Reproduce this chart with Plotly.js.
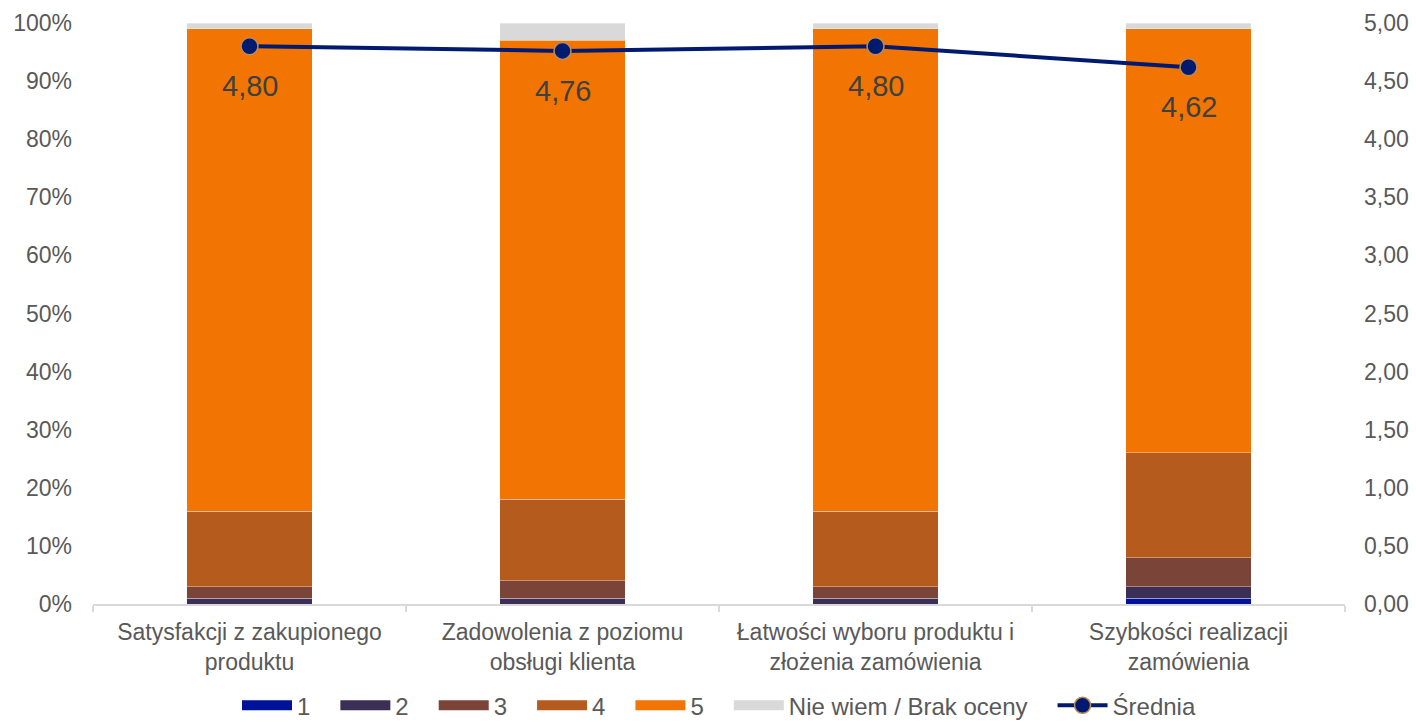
<!DOCTYPE html>
<html>
<head>
<meta charset="utf-8">
<script src="https://cdn.plot.ly/plotly-3.0.1.min.js"></script>
<style>
  html, body { margin: 0; padding: 0; background: #ffffff; }
  #chart { width: 1416px; height: 722px; }
</style>
</head>
<body>
<div id="chart"></div>
<script>
// Survey categories (x axis)
const categories = [
  'Satysfakcji z zakupionego<br>produktu',
  'Zadowolenia z poziomu<br>obsługi klienta',
  'Łatwości wyboru produktu i<br>złożenia zamówienia',
  'Szybkości realizacji<br>zamówienia'
];

// Share of answers per rating, in percent
const rating1 = [0, 0, 0, 1];
const rating2 = [1, 1, 1, 2];
const rating3 = [2, 3, 2, 5];
const rating4 = [13, 14, 13, 18];
const rating5 = [83, 79, 83, 73];
const noAnswer = [1, 3, 1, 1];

// Average rating (right axis)
const means = [4.80, 4.76, 4.80, 4.62];

const seriesNames = ['1', '2', '3', '4', '5', 'Nie wiem / Brak oceny'];
const meanName = 'Średnia';
const seriesColors = ['#00129A', '#3C2F55', '#7A4438', '#B55B1E', '#F27503', '#D9D9D9'];
const seriesValues = [rating1, rating2, rating3, rating4, rating5, noAnswer];

const textColor = '#595959';
const fontFamily = 'Liberation Sans, Arial, sans-serif';
const tickSize = 23;
// extra room after each legend label
const legendPad = '\u00a0\u00a0\u00a0';

// stacked bars (legend entries are drawn by wide swatch traces below)
const traces = seriesValues.map((vals, i) => ({
  type: 'bar',
  name: seriesNames[i],
  x: categories,
  y: vals,
  showlegend: false,
  marker: {
    color: seriesColors[i],
    line: { color: 'rgba(255,255,255,0.35)', width: 1 }
  },
  hoverinfo: 'skip'
}));

// wide rectangular legend swatches for the rating series
seriesNames.forEach((name, i) => {
  traces.push({
    type: 'scatter',
    mode: 'lines',
    name: name + legendPad,
    x: [null],
    y: [null],
    line: { color: seriesColors[i], width: 14 },
    hoverinfo: 'skip'
  });
});

traces.push({
  type: 'scatter',
  mode: 'lines+markers',
  name: meanName,
  x: categories,
  y: means,
  yaxis: 'y2',
  line: { color: '#001A70', width: 4 },
  marker: { color: '#001A70', size: 17, line: { color: '#C08A55', width: 1.5 } },
  hoverinfo: 'skip'
});

const fmt = v => v.toFixed(2).replace('.', ',');

const annotations = means.map((v, i) => ({
  x: categories[i],
  y: v,
  xref: 'x',
  yref: 'y2',
  text: fmt(v),
  showarrow: false,
  yshift: -40,
  font: { family: fontFamily, size: 29, color: '#404040' }
}));

const layout = {
  width: 1416,
  height: 722,
  margin: { l: 93, r: 71, t: 23, b: 118, autoexpand: false },
  paper_bgcolor: '#ffffff',
  plot_bgcolor: '#ffffff',
  barmode: 'stack',
  bargap: 0.6,
  separators: ', ',
  showlegend: true,
  font: { family: fontFamily, size: tickSize, color: textColor },
  xaxis: {
    type: 'category',
    showline: true,
    linecolor: '#D9D9D9',
    linewidth: 2,
    ticks: 'outside',
    tickson: 'boundaries',
    tickcolor: '#D9D9D9',
    ticklen: 6,
    tickwidth: 2,
    ticklabelstandoff: 6,
    showgrid: false,
    tickfont: { family: fontFamily, size: tickSize, color: textColor },
    fixedrange: true
  },
  yaxis: {
    range: [0, 100],
    dtick: 10,
    ticksuffix: '%',
    showgrid: false,
    zeroline: false,
    showline: false,
    ticks: '',
    ticklabelstandoff: 20,
    tickfont: { family: fontFamily, size: tickSize, color: textColor },
    fixedrange: true
  },
  yaxis2: {
    overlaying: 'y',
    side: 'right',
    range: [0, 5],
    dtick: 0.5,
    tickformat: '.2f',
    showgrid: false,
    zeroline: false,
    showline: false,
    ticks: '',
    ticklabelstandoff: 18,
    tickfont: { family: fontFamily, size: tickSize, color: textColor },
    fixedrange: true
  },
  legend: {
    orientation: 'h',
    x: 0.5,
    xanchor: 'center',
    y: -0.175,
    yanchor: 'middle',
    traceorder: 'normal',
    font: { family: fontFamily, size: 24, color: textColor },
    itemwidth: 50,
    bgcolor: 'rgba(0,0,0,0)'
  },
  annotations: annotations
};

Plotly.newPlot('chart', traces, layout, { displayModeBar: false, staticPlot: true });
</script>
</body>
</html>
